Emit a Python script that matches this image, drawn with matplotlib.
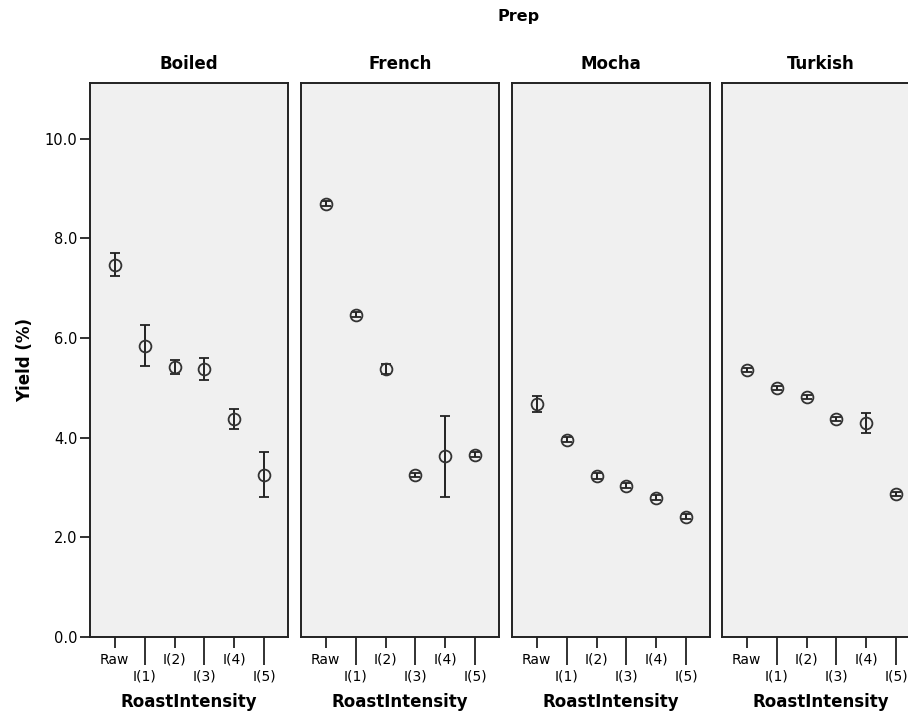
import matplotlib
matplotlib.use("Agg")
import matplotlib.pyplot as plt
import numpy as np

plt.rcParams["font.family"] = ["DejaVu Sans"]

# data
preps = ["Boiled", "French", "Mocha", "Turkish"]
roast_levels = ["Raw", "I(1)", "I(2)", "I(3)", "I(4)", "I(5)"]

boiled_mean = [7.47, 5.85, 5.41, 5.38, 4.37, 3.26]
boiled_lo = [7.25, 5.43, 5.27, 5.15, 4.17, 2.82]
boiled_hi = [7.70, 6.27, 5.55, 5.60, 4.58, 3.72]

french_mean = [8.70, 6.47, 5.38, 3.26, 3.63, 3.66]
french_lo = [8.65, 6.42, 5.28, 3.22, 2.82, 3.61]
french_hi = [8.75, 6.52, 5.48, 3.30, 4.44, 3.71]

mocha_mean = [4.67, 3.96, 3.23, 3.04, 2.80, 2.41]
mocha_lo = [4.52, 3.91, 3.17, 2.99, 2.75, 2.36]
mocha_hi = [4.83, 4.01, 3.29, 3.09, 2.85, 2.46]

turkish_mean = [5.36, 5.00, 4.82, 4.38, 4.30, 2.87]
turkish_lo = [5.32, 4.96, 4.78, 4.34, 4.10, 2.83]
turkish_hi = [5.40, 5.04, 4.86, 4.42, 4.50, 2.91]

series = [
    (boiled_mean, boiled_lo, boiled_hi),
    (french_mean, french_lo, french_hi),
    (mocha_mean, mocha_lo, mocha_hi),
    (turkish_mean, turkish_lo, turkish_hi),
]
y_ticks = [0.0, 2.0, 4.0, 6.0, 8.0, 10.0]

W, H = 908, 724
fig = plt.figure(figsize=(W / 100, H / 100), dpi=100)
fig.patch.set_facecolor("white")

panel_left = [90, 301, 512, 722]
panel_w = 198
panel_top, panel_bottom = 83, 637
x = np.arange(len(roast_levels))

for i, (name, (mean, lo, hi)) in enumerate(zip(preps, series)):
    ax = fig.add_axes([
        panel_left[i] / W,
        1 - panel_bottom / H,
        panel_w / W,
        (panel_bottom - panel_top) / H,
    ])
    ax.set_facecolor("#f0f0f0")
    mean = np.array(mean)
    yerr = [mean - np.array(lo), np.array(hi) - mean]
    ax.errorbar(
        x, mean, yerr=yerr, fmt="o", mfc="none", mec="#333333", mew=1.3,
        ms=8.5, ecolor="#222222", elinewidth=1.4, capsize=3.5, capthick=1.4,
    )
    ax.set_xlim(-0.83, 5.8)
    ax.set_ylim(0, 11.12)
    for s in ax.spines.values():
        s.set_color("#222222")
        s.set_linewidth(1.4)

    # staggered category labels: short ticks for even, long ticks for odd
    ax.set_xticks(x[::2], [roast_levels[j] for j in x[::2]])
    ax.set_xticks(x[1::2], [roast_levels[j] for j in x[1::2]], minor=True)
    ax.tick_params(axis="x", which="major", length=8, width=1.3,
                   pad=3.5, labelsize=10, color="#222222")
    ax.tick_params(axis="x", which="minor", length=20, width=1.3,
                   pad=3.5, labelsize=10, color="#222222")
    ax.set_xlabel("RoastIntensity", fontsize=12, fontweight="bold", labelpad=7)
    ax.set_title(name, fontsize=12, fontweight="bold", pad=10)

    if i == 0:
        ax.set_yticks(y_ticks, [f"{v:.1f}" for v in y_ticks])
        ax.tick_params(axis="y", length=7, width=1.3, labelsize=10.5,
                       color="#222222", pad=2)
        ax.set_ylabel("Yield (%)", fontsize=12, fontweight="bold", labelpad=8)
    else:
        ax.set_yticks([])

fig.text(519 / W, 1 - 17 / H, "Prep", ha="center", va="center",
         fontsize=11.5, fontweight="bold")

fig.savefig("out.png", dpi=100)
